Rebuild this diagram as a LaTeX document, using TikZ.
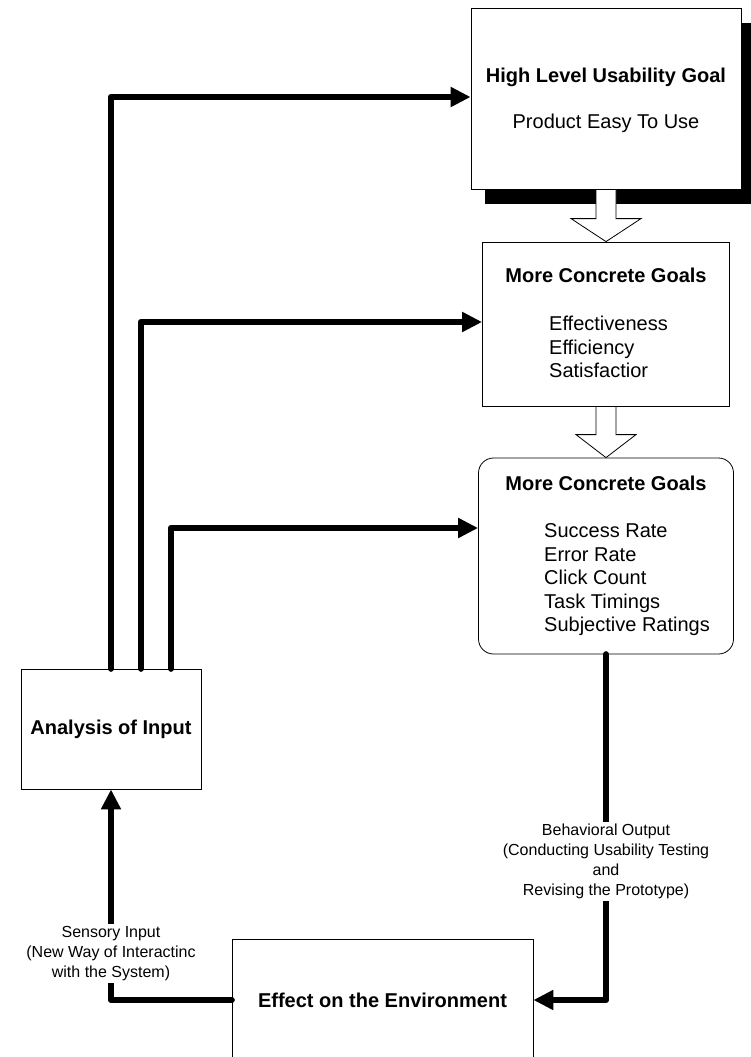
\documentclass[tikz,border=0pt]{standalone}
\usepackage{fontspec}
\setmainfont{Liberation Sans}
\usetikzlibrary{arrows.meta,calc,shadows}

\tikzset{
  goalbox/.style={draw, line width=0.8pt, fill=white, inner sep=0pt},
  heading/.style={font=\fontsize{20}{24}\selectfont\bfseries, inner sep=0pt},
  body/.style={font=\fontsize{20}{23.5}\selectfont, align=left, inner sep=0pt},
  lbl/.style={fill=white, font=\fontsize{16}{20}\selectfont, align=center, inner sep=2pt},
  flow/.style={line width=6.5pt, line cap=round, line join=round,
    -{Triangle[length=20pt,width=19pt]}},
  hollow/.style={draw, line width=0.8pt, fill=white}
}

\begin{document}
\begin{tikzpicture}[x=1pt, y=-1pt]
  \clip (0,0) rectangle (751,1057);

  % goal boxes
  \node [goalbox, minimum width=270pt, minimum height=181pt,
    drop shadow={shadow xshift=14pt, shadow yshift=-15pt, fill=black, opacity=1}]
    (hlgoal) at (606,98.5) {};
  \node [heading] (hltitle) at (606,77) {High Level Usability Goal};
  \node [body] (hltext) at (606,123) {Product Easy To Use};

  \node [goalbox, minimum width=247pt, minimum height=164pt] (concrete) at (606,324) {};
  \node [heading] (concretetitle) at (606,275) {More Concrete Goals};
  \node [body, anchor=west] (concretetext) at (549,347) {Effectiveness\\Efficiency\\Satisfactior};

  \node [goalbox, rounded corners=15pt, minimum width=255pt, minimum height=196pt] (metrics) at (606,556) {};
  \node [heading] (metricstitle) at (606,483) {More Concrete Goals};
  \node [body, anchor=west] (metricstext) at (544,580)
    {Success Rate\\Error Rate\\Click Count\\Task Timings\\Subjective Ratings};

  \node [goalbox, heading, minimum width=180pt, minimum height=120pt] (analysis) at (111,729) {Analysis of Input};
  \node [goalbox, heading, minimum width=301pt, minimum height=122pt] (effect) at (382.5,1000) {Effect on the Environment};

  % refinement arrows
  \foreach \src/\dst/\w in {hlgoal/concrete/35, concrete/metrics/30}
    \draw [hollow] ($(\src.south)+(-10,0)$) -- ($(\dst.north)+(-10,-23)$) -- ++(-\w+10,0)
      -- (\dst.north) -- ++(\w,-23) -- ++(-\w+10,0) -- ($(\src.south)+(10,0)$) -- cycle;

  % feedback loop
  \draw [flow] ([yshift=0pt]analysis.north) |- ([yshift=1.5pt]hlgoal.west);
  \draw [flow] ([xshift=30pt]analysis.north) |- ([yshift=2pt]concrete.west);
  \draw [flow] ([xshift=60pt]analysis.north) |- ([yshift=28pt]metrics.west);
  \draw [flow] (metrics.south) -- node[lbl, pos=0.6]
    {Behavioral Output\\(Conducting Usability Testing\\and\\Revising the Prototype)}
    (metrics.south |- effect.east) -- (effect.east);
  \draw [flow] (effect.west) -- (effect.west -| analysis.south) -- node[lbl, pos=0.22]
    {Sensory Input\\(New Way of Interactinc\\with the System)} (analysis.south);
\end{tikzpicture}
\end{document}
